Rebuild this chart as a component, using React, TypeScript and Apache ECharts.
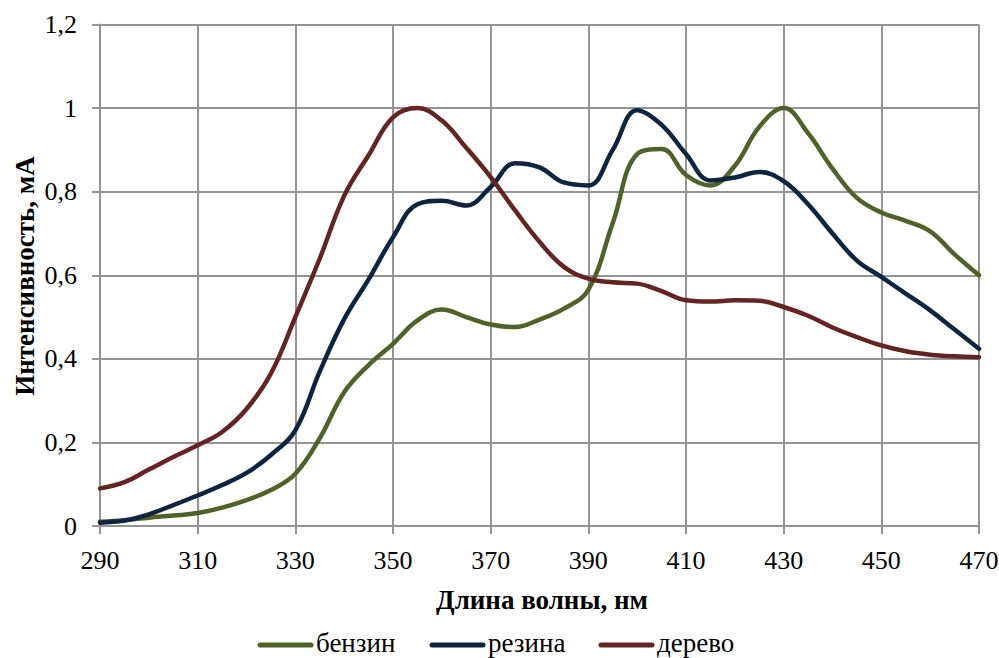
import React, { useEffect, useRef } from "react";
import * as echarts from "echarts";

const wavelengths = [
  290, 295, 300, 305, 310, 315, 320, 325, 330, 335, 340, 345, 350, 355, 360, 365, 370, 375, 380,
  385, 390, 395, 400, 405, 410, 415, 420, 425, 430, 435, 440, 445, 450, 455, 460, 465, 470,
];

const xTickLabels = [290, 310, 330, 350, 370, 390, 410, 430, 450, 470];
const yTickValues = [0, 0.2, 0.4, 0.6, 0.8, 1.0, 1.2];

const benzin = [
  0.01, 0.014, 0.02, 0.025, 0.031, 0.044, 0.062, 0.086, 0.125, 0.21, 0.32, 0.385, 0.436, 0.492,
  0.518, 0.5, 0.482, 0.476, 0.494, 0.52, 0.565, 0.725, 0.89, 0.902, 0.84, 0.815, 0.862, 0.955,
  1.0, 0.94, 0.855, 0.785, 0.75, 0.73, 0.705, 0.65, 0.6,
];

const rezina = [
  0.008, 0.013, 0.028, 0.05, 0.073, 0.098, 0.127, 0.17, 0.229, 0.37, 0.495, 0.59, 0.691, 0.77,
  0.778, 0.767, 0.811, 0.868, 0.858, 0.822, 0.815, 0.9, 0.995, 0.96, 0.89, 0.827, 0.834, 0.847,
  0.825, 0.77, 0.7, 0.635, 0.596, 0.556, 0.516, 0.47, 0.424,
];

const derevo = [
  0.09, 0.105, 0.135, 0.165, 0.193, 0.225, 0.28, 0.365, 0.5, 0.64, 0.79, 0.887, 0.978, 1.0, 0.97,
  0.905, 0.835, 0.755, 0.68, 0.62, 0.592, 0.583, 0.58, 0.562, 0.54, 0.537, 0.54, 0.539, 0.524,
  0.503, 0.475, 0.452, 0.432, 0.418, 0.41, 0.406, 0.404,
];

const seriesNames = ["бензин", "резина", "дерево"];
const seriesColors = ["#4F6228", "#0F243E", "#632523"];
const xTitle = "Длина волны, нм";
const yTitle = "Интенсивность, мА";

export default function App() {
  const ref = useRef<HTMLDivElement>(null);
  useEffect(() => {
    if (!ref.current) return;
    const chart = echarts.init(ref.current, null, { renderer: "svg" });
    const font = "Liberation Serif";
    const gridColor = "#949494";
    const mk = (name: string, data: number[], color: string) => ({
      name,
      type: "line",
      data,
      smooth: 0.4,
      showSymbol: false,
      symbol: "none",
      lineStyle: { color, width: 4.5, cap: "round" },
      itemStyle: { color },
    });
    chart.setOption({
      animation: false,
      backgroundColor: "#ffffff",
      grid: { left: 100, right: 20, top: 24.5, bottom: 132, containLabel: false },
      legend: { show: false, data: seriesNames },
      xAxis: {
        type: "category",
        data: wavelengths.map(String),
        boundaryGap: false,
        axisLine: { lineStyle: { color: gridColor, width: 2 } },
        axisTick: { show: true, interval: 3, length: 8, lineStyle: { color: gridColor, width: 2 } },
        axisLabel: { show: false, interval: 3 },
        splitLine: { show: true, interval: 3, lineStyle: { color: gridColor, width: 2 } },
      },
      yAxis: {
        type: "value",
        min: 0,
        max: 1.2,
        interval: 0.2,
        axisLine: { show: true, lineStyle: { color: gridColor, width: 2 } },
        axisTick: { show: true, length: 8, lineStyle: { color: gridColor, width: 2 } },
        axisLabel: { show: false },
        splitLine: { show: true, lineStyle: { color: gridColor, width: 2 } },
      },
      series: seriesNames.map((n, i) => mk(n, [benzin, rezina, derevo][i], seriesColors[i])),
    });

    const y0 = chart.convertToPixel({ yAxisIndex: 0 }, 0) as number;
    const gx = chart.convertToPixel({ xAxisIndex: 0 }, String(wavelengths[0])) as number;
    const txt = (
      text: string,
      x: number,
      y: number,
      opts: { size?: number; bold?: boolean; align?: string; vAlign?: string; rotation?: number } = {}
    ) => ({
      type: "text",
      x,
      y,
      rotation: opts.rotation || 0,
      silent: true,
      style: {
        text,
        fontFamily: font,
        fontSize: opts.size || 26,
        fontWeight: opts.bold ? "bold" : "normal",
        fill: "#000",
        align: opts.align || "center",
        verticalAlign: opts.vAlign || "middle",
      },
    });

    const graphics: any[] = [];
    xTickLabels.forEach((w) => {
      const px = chart.convertToPixel({ xAxisIndex: 0 }, String(w)) as number;
      graphics.push(txt(String(w), px, y0 + 34));
    });
    yTickValues.forEach((v) => {
      const py = chart.convertToPixel({ yAxisIndex: 0 }, v) as number;
      graphics.push(
        txt(String(Math.round(v * 10) / 10).replace(".", ","), gx - 23, py, { align: "right" })
      );
    });
    graphics.push(txt(xTitle, 542, 600, { bold: true, size: 27 }));
    graphics.push(txt(yTitle, 25, 276, { bold: true, size: 27, rotation: Math.PI / 2 }));

    const legendLines = [258, 430, 599];
    seriesNames.forEach((n, i) => {
      const lx = legendLines[i];
      graphics.push({
        type: "line",
        silent: true,
        shape: { x1: lx + 2, y1: 645, x2: lx + 53, y2: 645 },
        style: { stroke: seriesColors[i], lineWidth: 5, lineCap: "round" },
      });
      graphics.push(txt(n, lx + 58, 643, { align: "left", size: 27 }));
    });

    chart.setOption({ graphic: graphics });
    return () => chart.dispose();
  }, []);
  return (
    <div
      ref={ref}
      style={{ position: "fixed", left: 0, top: 0, width: 999, height: 658, background: "#fff" }}
    />
  );
}
